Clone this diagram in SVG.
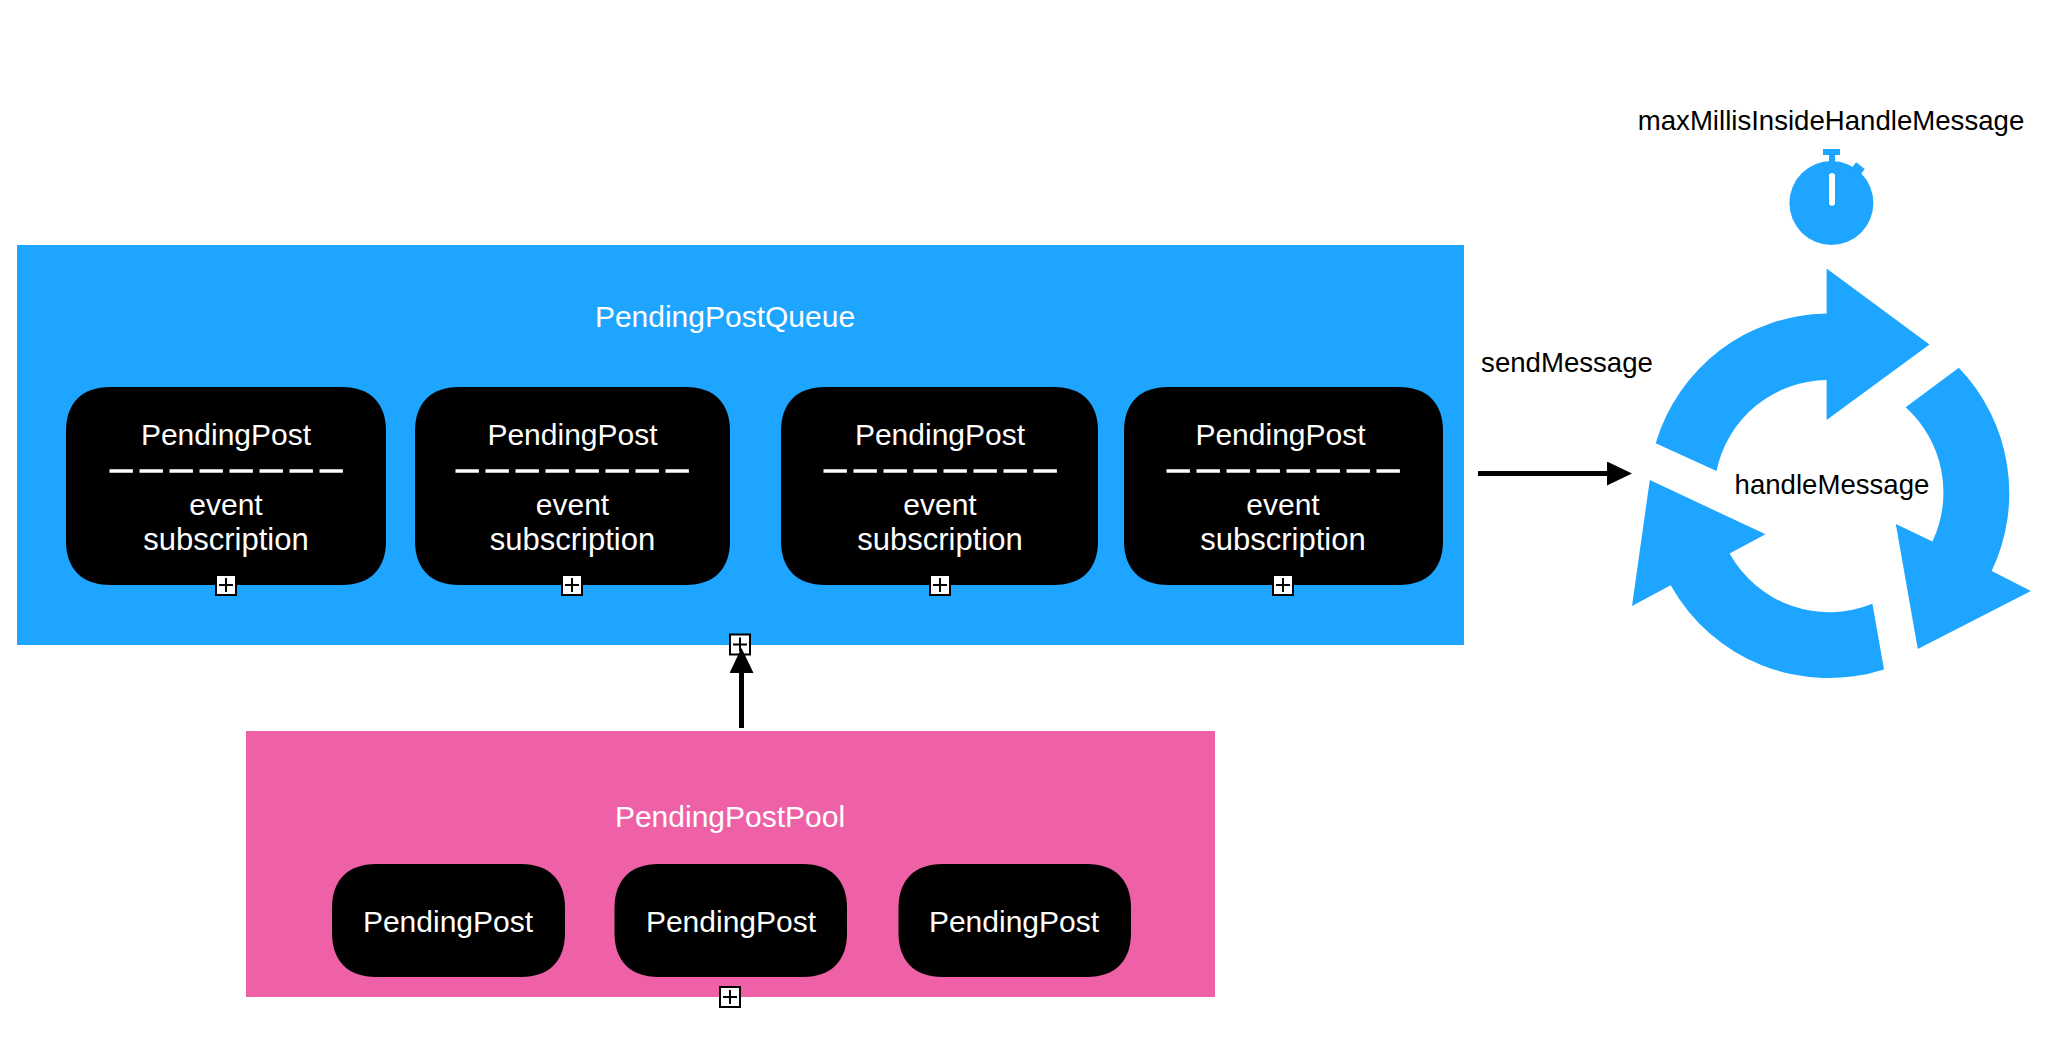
<svg xmlns="http://www.w3.org/2000/svg" width="2054" height="1044" viewBox="0 0 2054 1044">
<style>
text{font-family:"Liberation Sans",Arial,Helvetica,sans-serif;font-size:30px;text-anchor:middle}
.w{fill:#fff}
.s{fill:#fff;font-size:31px}
.k{fill:#000;font-size:27.6px}
.blue{fill:#1EA5FF}
.pink{fill:#EE61A6}
.node{fill:#000}
.dash{stroke:#fff;stroke-width:3.5;stroke-dasharray:23.4 6.6}
.cbox{fill:#fff;stroke:#000;stroke-width:2}
.cplus{stroke:#000;stroke-width:2;fill:none}
.conn{stroke:#000;stroke-width:5;fill:none;marker-end:url(#head)}
</style>
<defs>
<marker id="head" markerUnits="userSpaceOnUse" markerWidth="25" markerHeight="24" viewBox="0 0 25 24" refX="0" refY="12" orient="auto"><path d="M0 0L25 12L0 24Z" fill="#000"/></marker>
<g id="plus"><rect class="cbox" x="-10" y="-10" width="20" height="20"/><path class="cplus" d="M-7 0H7M0-7V7"/></g>
</defs>
<rect width="2054" height="1044" fill="#fff"/>
<g id="queue">
<rect class="blue" x="17" y="245" width="1447" height="400"/>
<text class="w" x="725" y="327">PendingPostQueue</text>
</g>
<g id="pool">
<rect class="pink" x="246" y="731" width="969" height="266"/>
<text class="w" x="730" y="827">PendingPostPool</text>
</g>
<g id="queue-node-1">
<path class="node" d="M110 387h232c28 0 44 16 44 44v110c0 28-16 44-44 44h-232c-28 0-44-16-44-44v-110c0-28 16-44 44-44z"/>
<text class="w" x="226" y="444.5">PendingPost</text>
<line class="dash" x1="109.5" y1="471" x2="343" y2="471"/>
<text class="w" x="226" y="515">event</text>
<text class="s" x="226" y="550">subscription</text>
<use href="#plus" x="226" y="585"/>
</g>
<g id="queue-node-2">
<path class="node" d="M459 387h227c28 0 44 16 44 44v110c0 28-16 44-44 44h-227c-28 0-44-16-44-44v-110c0-28 16-44 44-44z"/>
<text class="w" x="572.5" y="444.5">PendingPost</text>
<line class="dash" x1="455.5" y1="471" x2="689" y2="471"/>
<text class="w" x="572.5" y="515">event</text>
<text class="s" x="572.5" y="550">subscription</text>
<use href="#plus" x="572" y="585"/>
</g>
<g id="queue-node-3">
<path class="node" d="M825 387h229c28 0 44 16 44 44v110c0 28-16 44-44 44h-229c-28 0-44-16-44-44v-110c0-28 16-44 44-44z"/>
<text class="w" x="940" y="444.5">PendingPost</text>
<line class="dash" x1="823.5" y1="471" x2="1057" y2="471"/>
<text class="w" x="940" y="515">event</text>
<text class="s" x="940" y="550">subscription</text>
<use href="#plus" x="940" y="585"/>
</g>
<g id="queue-node-4">
<path class="node" d="M1168 387h231c28 0 44 16 44 44v110c0 28-16 44-44 44h-231c-28 0-44-16-44-44v-110c0-28 16-44 44-44z"/>
<text class="w" x="1280.5" y="444.5">PendingPost</text>
<line class="dash" x1="1166.5" y1="471" x2="1400" y2="471"/>
<text class="w" x="1283" y="515">event</text>
<text class="s" x="1283" y="550">subscription</text>
<use href="#plus" x="1283" y="585"/>
</g>
<g id="queue-plus"><use href="#plus" x="740" y="644.5"/></g>
<g id="pool-node-1">
<path class="node" d="M376 864h145c28 0 44 16 44 44v25c0 28-16 44-44 44h-145c-28 0-44-16-44-44v-25c0-28 16-44 44-44z"/>
<text class="w" x="448" y="932">PendingPost</text>
</g>
<g id="pool-node-2">
<path class="node" d="M658.5 864h144.500c28 0 44 16 44 44v25c0 28-16 44-44 44h-144.500c-28 0-44-16-44-44v-25c0-28 16-44 44-44z"/>
<text class="w" x="731" y="932">PendingPost</text>
</g>
<g id="pool-node-3">
<path class="node" d="M942.500 864h144.500c28 0 44 16 44 44v25c0 28-16 44-44 44h-144.500c-28 0-44-16-44-44v-25c0-28 16-44 44-44z"/>
<text class="w" x="1014" y="932">PendingPost</text>
</g>
<g id="pool-plus"><use href="#plus" x="730" y="997"/></g>
<g id="connectors">
<line class="conn" x1="741.5" y1="728" x2="741.5" y2="673"/>
<line class="conn" x1="1478" y1="473.5" x2="1607" y2="473.5"/>
</g>
<g id="timer-label"><text class="k" x="1831" y="130">maxMillisInsideHandleMessage</text></g>
<g id="timer">
<circle class="blue" cx="1831.4" cy="203" r="42"/>
<rect class="blue" x="1823" y="149" width="17" height="6"/>
<rect class="blue" x="1829" y="155" width="6" height="8"/>
<rect class="blue" x="-5.5" y="-3.5" width="11" height="7" transform="translate(1858.3 168.300) rotate(38)"/>
<rect x="1829" y="173" width="6" height="32.700" rx="3" fill="#fff"/>
</g>
<g id="send-label"><text class="k" x="1567" y="372">sendMessage</text></g>
<g id="cycle">
<path class="blue" d="M1655.7 443.3A181 181 0 0 1 1826.6 313.5V268.6L1929.5 344.5L1826.6 420V380A114 114 0 0 0 1716.5 471Z"/>
<path class="blue" d="M1958.8 367.8A181 181 0 0 1 1991.7 571L2030.9 591L1917.8 649L1895.8 524L1932.4 541.6A115 115 0 0 0 1905.7 407.3Z"/>
<path class="blue" d="M1884 669.4A181 181 0 0 1 1670.7 585.3L1632 606L1649.8 480L1765.5 534.3L1729.6 553.5A114 114 0 0 0 1872.4 603.7Z"/>
<text class="k" x="1832" y="494">handleMessage</text>
</g>
</svg>
